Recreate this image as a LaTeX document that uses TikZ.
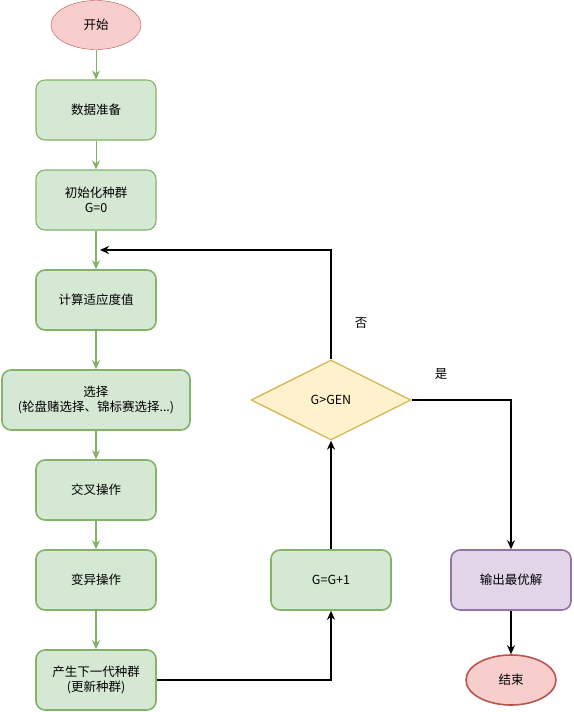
\documentclass[tikz,border=0pt]{standalone}
\usepackage{fontspec}
\setmainfont{Noto Sans CJK SC}
\usetikzlibrary{arrows.meta,shapes.geometric}
\definecolor{greenfill}{HTML}{D5E8D4}
\definecolor{greenline}{HTML}{82B366}
\definecolor{redfill}{HTML}{F8CECC}
\definecolor{redline}{HTML}{B85450}
\definecolor{yellowfill}{HTML}{FFF2CC}
\definecolor{yellowline}{HTML}{D6B656}
\definecolor{purplefill}{HTML}{E1D5E7}
\definecolor{purpleline}{HTML}{9673A6}
\tikzset{
  every node/.style={font=\fontsize{12.5}{15}\selectfont, align=center, text=black},
  terminal/.style={ellipse, draw=redline, fill=redfill, inner sep=0pt,
    minimum width=90pt, minimum height=49pt},
  stepbox/.style={rectangle, rounded corners=9pt, draw=greenline, fill=greenfill,
    inner sep=0pt, minimum width=120pt, minimum height=60pt},
  decision/.style={diamond, aspect=2, draw=yellowline, fill=yellowfill, line width=1.3pt,
    inner sep=0pt, minimum width=160pt, minimum height=80pt},
  outbox/.style={stepbox, draw=purpleline, fill=purplefill},
  thinflow/.style={->, draw=greenline, line width=1pt},
  thickflow/.style={->, draw=greenline, line width=1.8pt},
  blackflow/.style={->, draw=black, line width=1.6pt},
}

\begin{document}
\begin{tikzpicture}[x=1pt, y=-1pt, >={Stealth[length=9pt, width=8pt]}]

  \useasboundingbox (0,0) rectangle (573,712);

  % Main column.
  \node[terminal] (start) at (96,25) {开始};
  \node[stepbox, line width=1.1pt] (prep) at (96,110) {数据准备};
  \node[stepbox, line width=1.1pt] (init) at (96,200) {初始化种群\\G=0};
  \node[stepbox, line width=1.6pt] (fit) at (96,300) {计算适应度值};
  \node[stepbox, line width=1.6pt, minimum width=188pt] (sel) at (96,400)
    {选择\\ (轮盘赌选择、锦标赛选择...)};
  \node[stepbox, line width=1.6pt] (cross) at (96,490) {交叉操作};
  \node[stepbox, line width=1.6pt] (mut) at (96,580) {变异操作};
  \node[stepbox, line width=1.6pt] (next) at (96,680) {产生下一代种群\\(更新种群)};

  % Loop and exit.
  \node[stepbox, line width=1.6pt] (incr) at (331,580) {G=G+1};
  \node[decision] (check) at (331,400) {G>GEN};
  \node[outbox, line width=1.6pt] (best) at (511,580) {输出最优解};
  \node[terminal, line width=1.6pt, minimum height=50pt] (stop) at (511,680) {结束};

  % Green connectors.
  \draw[thinflow] (start) -- (prep);
  \draw[thinflow] (prep) -- (init);
  \draw[thickflow] (init) -- (fit);
  \draw[thickflow] (fit) -- (sel);
  \draw[thickflow] (sel) -- (cross);
  \draw[thickflow] (cross) -- (mut);
  \draw[thickflow] (mut) -- (next);

  % Black connectors.
  \coordinate (back) at (96,250);
  \draw[blackflow] (next.east) -| (incr.south);
  \draw[blackflow] (incr.north) -- (check.south);
  \draw[blackflow, shorten >=4pt] (check.north) |- (back);
  \draw[blackflow] (check.east) -| (best.north);
  \draw[blackflow] (best) -- (stop);

  % Branch labels.
  \node (nolabel) at (361,323) {否};
  \node (yeslabel) at (441,374) {是};

\end{tikzpicture}
\end{document}
